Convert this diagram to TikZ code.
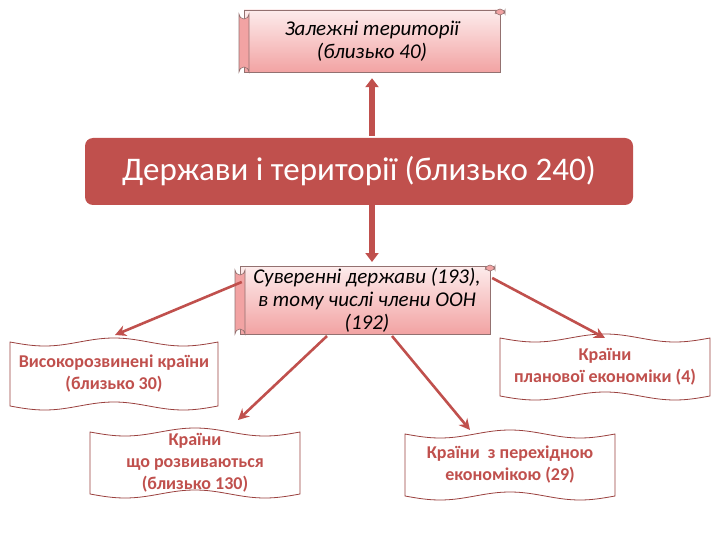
\documentclass[tikz,border=0pt]{standalone}
\usepackage{fontspec}
\setmainfont{Carlito}
\usetikzlibrary{arrows.meta}
\definecolor{dred}{HTML}{C0504D}
\definecolor{pinkT}{HTML}{FDECEC}
\definecolor{pinkB}{HTML}{F2A3A3}
\tikzset{
  scrolltxt/.style={font=\itshape\fontsize{21}{23}\selectfont, align=center, text=black},
  wavetxt/.style={font=\bfseries\fontsize{18}{22}\selectfont, align=center, text=dred},
  conn/.style={draw=dred, line width=2.6pt, -{Stealth[length=11pt,width=11pt]}},
  blockarr/.style={draw=dred, line width=6pt, -{Triangle[length=9pt,width=13pt]}},
  wavepath/.style={draw=dred!80!black, line width=0.8pt, fill=white},
  scrollpath/.style={draw=gray!70!dred, line width=0.8pt, top color=pinkT, bottom color=pinkB},
}
\newcommand{\wavebox}[4]{% x1 y1 x2 y2
  \path[wavepath] plot[domain=#1:#3,samples=60] (\x,{#2+4*sin(deg(2*pi*(\x-#1)/((#3-#1)/1.5)))})
   -- plot[domain=#3:#1,samples=60] (\x,{#4+4*sin(deg(2*pi*(\x-#1)/((#3-#1)/1.5)))}) -- cycle;}
\newcommand{\scrollbox}[4]{%
  \path[scrollpath] (#1,#2) rectangle (#3,#4);
  \draw[gray!70!dred, fill=pinkB, line width=0.6pt] (#3-5,#2) arc(180:0:5) -- (#3+5,#2+4) arc(0:-180:5);
  \draw[gray!70!dred, fill=pinkB, line width=0.6pt] (#1-5,#2+4) arc(180:0:5) -- (#1+5,#4) arc(0:-180:5) -- cycle;}
\begin{document}
\begin{tikzpicture}[x=1pt,y=-1pt]
\useasboundingbox (0,0) rectangle (720,540);
% shapes
\scrollbox{244}{10}{500}{72}
\scrollbox{240}{266}{490}{334}
\fill[dred] (85,138) [rounded corners=8pt] rectangle (633,205);
\wavebox{10}{342}{218}{406}
\wavebox{500}{338}{710}{396}
\wavebox{90}{432}{300}{494}
\wavebox{405}{434}{615}{496}
% nodes
\node[scrolltxt, minimum width=256pt, minimum height=62pt] (dep) at (372,41) {Залежні території\\(близько 40)};
\node[font=\fontsize{33}{38}\selectfont, text=white, minimum width=548pt, minimum height=67pt] (all) at (359,171.5) {Держави і території (близько 240)};
\node[scrolltxt, minimum width=250pt, minimum height=68pt] (sov) at (367,300) {Суверенні держави (193),\\в тому числі члени ООН\\(192)};
\node[wavetxt, minimum width=208pt, minimum height=64pt] (dev) at (114,374) {Високорозвинені країни\\(близько 30)};
\node[wavetxt, minimum width=210pt, minimum height=58pt] (plan) at (605,367) {Країни\\планової економіки (4)};
\node[wavetxt, minimum width=210pt, minimum height=62pt] (devg) at (195,463) {Країни\\що розвиваються\\(близько 130)};
\node[wavetxt, minimum width=210pt, minimum height=62pt] (trans) at (510,465) {Країни~ з перехідною\\економікою (29)};
% connectors
\draw[blockarr] (all.north -| dep.south) ++(0,-2) -- ([yshift=-6pt]dep.south);
\draw[blockarr] ([yshift=2pt]all.south -| dep.south) -- (372,262);
\draw[conn] (sov.west |- 0,282) -- (115,335);
\draw[conn] (sov.east |- 0,278) -- (605,338);
\draw[conn] (327,336) -- (238,420);
\draw[conn] (392,336) -- (470,430);
\end{tikzpicture}
\end{document}
